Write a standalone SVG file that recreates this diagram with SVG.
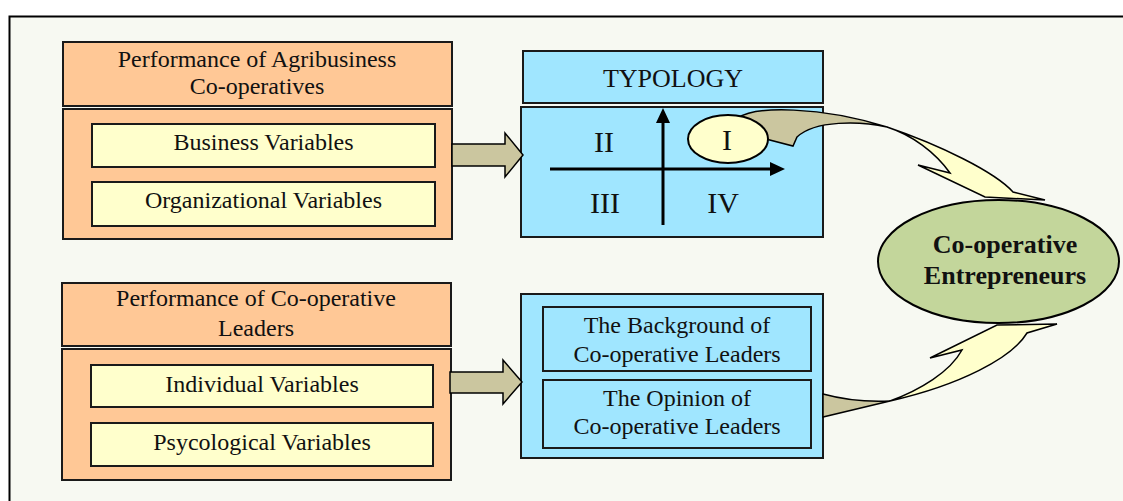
<svg xmlns="http://www.w3.org/2000/svg" width="1123" height="501" viewBox="0 0 1123 501">
  <defs>
    <style>
      .frame { fill: #f7f9f2; stroke: #000; stroke-width: 2; }
      .orange { fill: #ffc896; stroke: #1a1a1a; stroke-width: 2; }
      .yellow { fill: #ffffcc; stroke: #1a1a1a; stroke-width: 2; }
      .blue { fill: #a0e6ff; stroke: #1a1a1a; stroke-width: 2; }
      .khaki { fill: #cbc69f; stroke: #000; stroke-width: 1.5; stroke-linejoin: miter; }
      .pale { fill: #ffffcc; stroke: #000; stroke-width: 1.5; stroke-linejoin: miter; }
      .axis { stroke: #000; stroke-width: 3; fill: none; }
      .t { font-family: "Liberation Serif", "Times New Roman", serif; font-size: 24px; fill: #111; text-anchor: middle; }
      .title { font-family: "Liberation Serif", "Times New Roman", serif; font-size: 26px; fill: #111; text-anchor: middle; }
      .num { font-family: "Liberation Serif", "Times New Roman", serif; font-size: 30px; fill: #111; text-anchor: middle; }
      .bold { font-family: "Liberation Serif", "Times New Roman", serif; font-size: 26px; font-weight: bold; fill: #111; text-anchor: middle; }
    </style>
  </defs>

  <rect x="0" y="0" width="1123" height="501" fill="#ffffff"/>
  <rect class="frame" x="9.5" y="16.5" width="1130" height="500"/>

  <!-- Agribusiness co-operatives block -->
  <g id="agri-performance">
    <rect class="orange" x="63" y="42" width="389" height="64"/>
    <text class="t" x="257" y="67">Performance of Agribusiness</text>
    <text class="t" x="257" y="94">Co-operatives</text>
    <rect class="orange" x="63" y="109" width="389" height="130"/>
  </g>
  <g id="business-variables">
    <rect class="yellow" x="92" y="124" width="343" height="43"/>
    <text class="t" x="263.5" y="150">Business Variables</text>
  </g>
  <g id="organizational-variables">
    <rect class="yellow" x="92" y="182" width="343" height="44"/>
    <text class="t" x="263.5" y="208">Organizational Variables</text>
  </g>

  <!-- Co-operative leaders block -->
  <g id="leader-performance">
    <rect class="orange" x="62" y="283" width="389" height="63"/>
    <text class="t" x="256" y="306">Performance of Co-operative</text>
    <text class="t" x="256" y="336">Leaders</text>
    <rect class="orange" x="62" y="349" width="389" height="131"/>
  </g>
  <g id="individual-variables">
    <rect class="yellow" x="91" y="365" width="342" height="42"/>
    <text class="t" x="262" y="392">Individual Variables</text>
  </g>
  <g id="psychological-variables">
    <rect class="yellow" x="91" y="423" width="342" height="43"/>
    <text class="t" x="262" y="450">Psycological Variables</text>
  </g>

  <!-- Typology quadrant chart -->
  <g id="typology">
    <rect class="blue" x="523" y="51" width="300" height="52"/>
    <text class="title" x="673" y="87">TYPOLOGY</text>
    <rect class="blue" x="521" y="107" width="302" height="130"/>
    <line class="axis" x1="663" y1="225" x2="663" y2="121"/>
    <polygon points="656,123 670,123 663,108" fill="#000"/>
    <line class="axis" x1="550" y1="169" x2="772" y2="169"/>
    <polygon points="770,162 770,176 785,169" fill="#000"/>
    <text class="num" x="604" y="152">II</text>
    <text class="num" x="605" y="213">III</text>
    <text class="num" x="723" y="213">IV</text>
  </g>

  <!-- Leader profile block -->
  <g id="leader-profile">
    <rect class="blue" x="521" y="294" width="302" height="164"/>
  </g>
  <g id="leader-background">
    <rect class="blue" x="543" y="307" width="268" height="64"/>
    <text class="t" x="677" y="333">The Background of</text>
    <text class="t" x="677" y="362">Co-operative Leaders</text>
  </g>
  <g id="leader-opinion">
    <rect class="blue" x="543" y="380" width="268" height="68"/>
    <text class="t" x="677" y="406">The Opinion of</text>
    <text class="t" x="677" y="434">Co-operative Leaders</text>
  </g>

  <!-- Connectors -->
  <g id="connectors">
    <polygon class="khaki" points="452,144 505,144 505,133 523,155 505,177 505,166 452,166"/>
    <polygon class="khaki" points="450,372 503,372 503,360 522,382 503,404 503,393 450,393"/>
    <!-- twisted band from quadrant I to the entrepreneurs ellipse -->
    <path class="khaki" d="M 738,118 C 755,106 820,106 887,127 C 860,121 815,120 797,137 L 793,146 L 766,139 L 745,120 Z"/>
    <path class="pale" d="M 887,127 C 940,145 995,172 1013,192 L 1045,200 L 985,197 L 918,165 L 950,173 C 935,152 912,135 887,127 Z"/>
    <!-- band from leader profile up to the entrepreneurs ellipse -->
    <path class="khaki" d="M 823,394 C 845,400 870,402 890,401 L 823,417 Z"/>
    <path class="pale" d="M 890,401 C 920,390 950,372 962,350 L 930,358 L 997,325 L 1057,324 L 1027,333 C 1012,358 960,385 890,401 Z"/>
  </g>

  <g id="quadrant-I">
    <ellipse cx="728" cy="139" rx="40" ry="24" fill="#ffffcc" stroke="#000" stroke-width="2"/>
    <text class="num" x="727" y="150">I</text>
  </g>

  <g id="cooperative-entrepreneurs">
    <ellipse cx="998.5" cy="261.5" rx="120.5" ry="61.5" fill="#c3d69b" stroke="#000" stroke-width="2"/>
    <text class="bold" x="1005" y="253">Co-operative</text>
    <text class="bold" x="1005" y="284">Entrepreneurs</text>
  </g>
</svg>
